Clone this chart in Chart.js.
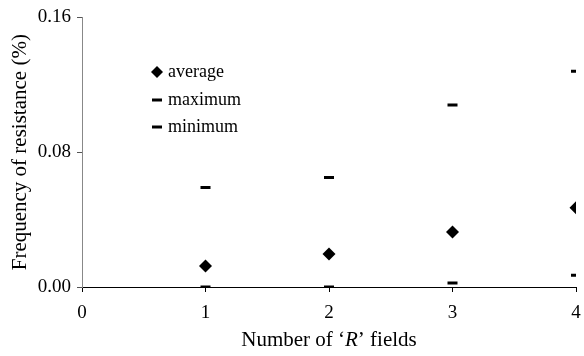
<!DOCTYPE html>
<html>
<head>
<meta charset="utf-8">
<script src="https://cdn.jsdelivr.net/npm/chart.js@4"></script>
<style>
  html, body { margin: 0; padding: 0; background: #fff; }
  #wrap { width: 584px; height: 356px; }
</style>
</head>
<body>
<div id="wrap"><canvas id="myChart" width="584" height="356"></canvas></div>
<script>
// values
const fields = [1, 2, 3, 4];
const average = [0.0124, 0.0196, 0.0326, 0.047];
const maximum = [0.059, 0.065, 0.108, 0.128];
const minimum = [0.0, 0.0, 0.0024, 0.007];
const yTicks = [0, 0.08, 0.16];
const legendLabels = ["average", "maximum", "minimum"];

const serif = "'Liberation Serif', 'Times New Roman', serif";

function pts(vals) {
  return fields.map((f, i) => ({ x: f, y: vals[i] }));
}

// legend inside the plot area + x title with italic R
const extras = {
  id: "extras",
  afterDraw(chart) {
    const ctx = chart.ctx;
    const rows = [72, 100, 127];
    ctx.save();
    ctx.fillStyle = "#000";
    ctx.strokeStyle = "#000";
    ctx.font = "18px " + serif;
    ctx.textBaseline = "middle";
    legendLabels.forEach((lab, i) => {
      const y = rows[i];
      const mx = 157;
      if (i === 0) {
        ctx.beginPath();
        ctx.moveTo(mx, y - 6);
        ctx.lineTo(mx + 6, y);
        ctx.lineTo(mx, y + 6);
        ctx.lineTo(mx - 6, y);
        ctx.closePath();
        ctx.fill();
      } else {
        ctx.lineWidth = 3;
        ctx.beginPath();
        ctx.moveTo(mx - 5, y);
        ctx.lineTo(mx + 5, y);
        ctx.stroke();
      }
      ctx.fillText(lab, 168, y);
    });

    // x axis title
    const parts = [
      { t: "Number of \u2018", f: "21px " + serif },
      { t: "R", f: "italic 21px " + serif },
      { t: "\u2019 fields", f: "21px " + serif }
    ];
    let total = 0;
    parts.forEach(p => { ctx.font = p.f; p.w = ctx.measureText(p.t).width; total += p.w; });
    const area = chart.chartArea;
    let x = (area.left + area.right) / 2 - total / 2;
    ctx.textBaseline = "alphabetic";
    ctx.textAlign = "left";
    parts.forEach(p => { ctx.font = p.f; ctx.fillText(p.t, x, 346); x += p.w; });
    ctx.restore();
  }
};

new Chart(document.getElementById("myChart"), {
  type: "scatter",
  data: {
    datasets: [
      {
        label: legendLabels[0],
        data: pts(average),
        pointStyle: "rectRot",
        pointRadius: 6.5,
        backgroundColor: "#000",
        borderColor: "#000",
        borderWidth: 0
      },
      {
        label: legendLabels[1],
        data: pts(maximum),
        pointStyle: "line",
        pointRadius: 5,
        borderColor: "#000",
        borderWidth: 3
      },
      {
        label: legendLabels[2],
        data: pts(minimum),
        pointStyle: "line",
        pointRadius: 5,
        borderColor: "#000",
        borderWidth: 3
      }
    ]
  },
  options: {
    responsive: false,
    animation: false,
    layout: { padding: { top: 17, right: 4, left: 8, bottom: 0 } },
    plugins: {
      legend: { display: false },
      tooltip: { enabled: false }
    },
    scales: {
      x: {
        type: "linear",
        min: 0,
        max: 4,
        ticks: {
          stepSize: 1,
          color: "#000",
          font: { family: serif, size: 19 },
          padding: 10,
          maxRotation: 0
        },
        grid: {
          drawOnChartArea: false,
          drawTicks: true,
          tickLength: 5,
          color: "#000"
        },
        border: { color: "#000", width: 1 },
        afterFit(scale) {
          scale.height = 69;
          scale.paddingLeft = 0;
          scale.paddingRight = 0;
        }
      },
      y: {
        min: 0,
        max: 0.16,
        afterBuildTicks(scale) {
          scale.ticks = yTicks.map(v => ({ value: v }));
        },
        ticks: {
          color: "#000",
          font: { family: serif, size: 19 },
          padding: 6,
          callback: v => v.toFixed(2)
        },
        grid: {
          drawOnChartArea: false,
          drawTicks: true,
          tickLength: 5,
          color: "#555"
        },
        border: { color: "#888", width: 1 },
        title: {
          display: true,
          text: "Frequency of resistance (%)",
          color: "#000",
          font: { family: serif, size: 21 },
          padding: { top: 0, bottom: 2 }
        },
        afterFit(scale) {
          scale.width = 74;
        }
      }
    }
  },
  plugins: [extras]
});
</script>
</body>
</html>
